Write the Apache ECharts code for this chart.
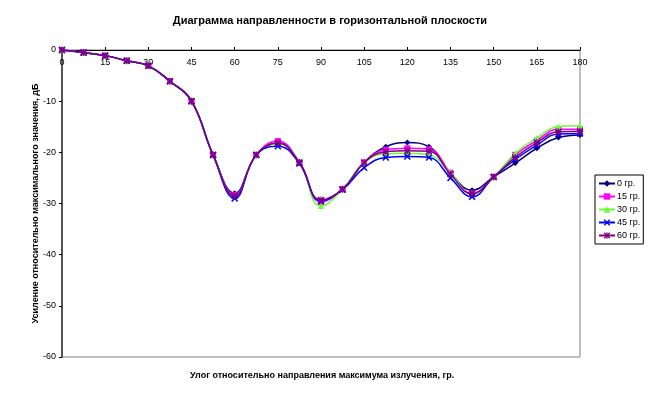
<!DOCTYPE html>
<html><head><meta charset="utf-8">
<script src="https://cdn.jsdelivr.net/npm/echarts@6/dist/echarts.min.js"></script>
<style>html,body{margin:0;padding:0;background:#fff}#c{width:660px;height:394px}</style>
</head><body><div id="c"></div>
<script>
var angles = [0,7.5,15,22.5,30,37.5,45,52.5,60,67.5,75,82.5,90,97.5,105,112.5,120,127.5,135,142.5,150,157.5,165,172.5,180];
var seriesNames = ['0 гр.','15 гр.','30 гр.','45 гр.','60 гр.'];
var g0  = [0,-0.5,-1.1,-2.1,-3.1,-6.1,-10,-20.5,-28.0,-20.5,-18.2,-22,-29.5,-27.2,-22.0,-18.9,-18.1,-18.9,-24.0,-27.4,-24.8,-22.1,-19.2,-17.1,-16.6];
var g15 = [0,-0.5,-1.1,-2.1,-3.1,-6.1,-10,-20.5,-28.3,-20.5,-17.8,-22,-29.7,-27.2,-22.0,-19.5,-19.2,-19.4,-24.0,-28.0,-24.8,-20.5,-17.7,-15.5,-15.5];
var g30 = [0,-0.5,-1.1,-2.1,-3.1,-6.1,-10,-20.5,-28.6,-20.5,-18.3,-22,-30.5,-27.2,-22.0,-20.3,-20.2,-20.5,-24.0,-28.2,-24.8,-20.2,-17.2,-15.0,-14.8];
var g45 = [0,-0.5,-1.1,-2.1,-3.1,-6.1,-10,-20.5,-29.0,-20.5,-18.8,-22.2,-29.5,-27.3,-23.0,-21.0,-20.8,-21.0,-25.0,-28.7,-24.8,-21.4,-18.6,-16.4,-16.3];
var g60 = [0,-0.5,-1.1,-2.1,-3.1,-6.1,-10,-20.5,-28.5,-20.5,-18.2,-22,-29.3,-27.2,-22.0,-19.9,-19.7,-19.8,-24.3,-28.1,-24.8,-21.0,-18.1,-16.0,-15.9];
var xTicks = [0,15,30,45,60,75,90,105,120,135,150,165,180];
var yTicks = [0,-10,-20,-30,-40,-50,-60];

var allVals = [g0,g15,g30,g45,g60];
var colors = ['#000080','#FF00FF','#66FF33','#0000FF','#800080'];
var xPath = 'path://M0,1.5 L1.5,0 L5,3.5 L8.5,0 L10,1.5 L6.5,5 L10,8.5 L8.5,10 L5,6.5 L1.5,10 L0,8.5 L3.5,5 Z';
var starPath = 'path://M0,1.5 L1.5,0 L5,3.5 L8.5,0 L10,1.5 L6.5,5 L10,8.5 L8.5,10 L5,6.5 L1.5,10 L0,8.5 L3.5,5 Z M4.2,0 L5.8,0 L5.8,10 L4.2,10 Z';
var symbols = ['diamond','rect','triangle',xPath,starPath];
var sizes = [6,6,6,7,7];

var chart = echarts.init(document.getElementById('c'), null, {renderer:'canvas'});
var series = allVals.map(function(v,i){
  return {
    name: seriesNames[i], type:'line', smooth:0.45,
    data: angles.map(function(a,j){return [a, v[j]];}),
    symbol: symbols[i], symbolSize: sizes[i], showSymbol:true,
    lineStyle:{color:colors[i], width:1.5},
    itemStyle:{color:colors[i], borderColor:colors[i], borderWidth:0},
    z: 2+i
  };
});
chart.setOption({
  animation:false,
  title:{text:'Диаграмма направленности в горизонтальной плоскости', left:'center', top:10,
    textStyle:{fontFamily:'Liberation Sans, Arial', fontSize:11, fontWeight:'bold', color:'#000'}},
  grid:{left:62, right:80, top:50, bottom:37, show:true, borderColor:'#808080', borderWidth:1},
  legend:{orient:'vertical', left:595, top:175, itemWidth:16, itemHeight:8, itemGap:4,
    padding:[4,3,4,3], borderColor:'#000', borderWidth:1,
    textStyle:{fontFamily:'Liberation Sans, Arial', fontSize:9, color:'#000', padding:[0,0,0,-3]},
    data: seriesNames},
  xAxis:{type:'value', position:'top', min:0, max:180, interval:15,
    axisLine:{onZero:false, lineStyle:{color:'#000', width:1}},
    axisTick:{show:true, inside:false, length:3, lineStyle:{color:'#000'}},
    axisLabel:{inside:true, margin:8, fontFamily:'Liberation Sans, Arial', fontSize:9, color:'#000',
      formatter:function(v){return xTicks.indexOf(v)>=0 ? String(v) : '';}},
    splitLine:{show:false}},
  yAxis:{type:'value', min:-60, max:0, interval:10,
    axisLine:{show:true, lineStyle:{color:'#555', width:2}},
    axisTick:{show:true, length:3, lineStyle:{color:'#000'}},
    axisLabel:{margin:6, fontFamily:'Liberation Sans, Arial', fontSize:9, color:'#000',
      formatter:function(v){return yTicks.indexOf(v)>=0 ? String(v) : '';}},
    splitLine:{show:false},
    name:'Усиление относительно максимального значения, дБ', nameLocation:'middle', nameGap:22,
    nameMoveOverlap:false,
    nameTextStyle:{fontFamily:'Liberation Sans, Arial', fontSize:9, fontWeight:'bold', color:'#000'}},
  graphic:[{type:'text', left:190, top:371, style:{
    text:'Улог относительно направления максимума излучения, гр.',
    font:'bold 9px "Liberation Sans", Arial', fill:'#000'}}],
  series: series
});
</script></body></html>
